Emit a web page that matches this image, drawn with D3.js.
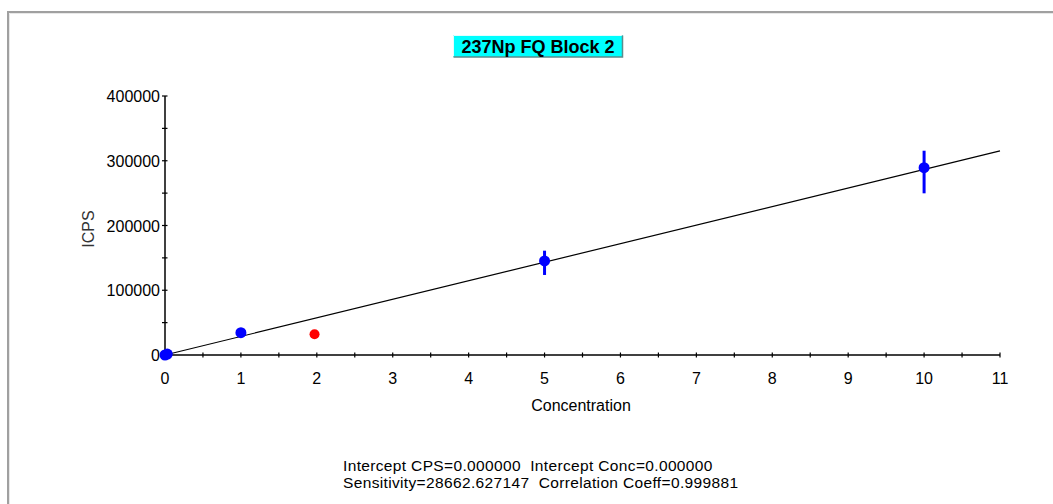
<!DOCTYPE html>
<html><head><meta charset="utf-8">
<script src="https://cdn.jsdelivr.net/npm/d3@7"></script>
<style>
html,body{margin:0;padding:0;background:#fff;}
svg{display:block;}
text{font-family:"Liberation Sans",Arial,sans-serif;white-space:pre;}
</style></head>
<body>
<svg id="chart" width="1053" height="504"></svg>
<script>
// ---- data ----
const title = "237Np FQ Block 2";
const xLabel = "Concentration";
const yLabel = "ICPS";
const xTicks = [0,1,2,3,4,5,6,7,8,9,10,11];
const yTicks = [0,100000,200000,300000,400000];
const blueConc = [0, 0.03, 1, 5, 10];
const blueCps  = [0, 1500, 34400, 145200, 289300];
const errLow   = [0, 1500, 34400, 123600, 249700];
const errHigh  = [0, 1500, 34400, 161100, 315500];
const redConc = [1.97];
const redCps  = [32000];
const sensitivity = 28662.627147;
const fitRange = [0, 11];
const footer = ["Intercept CPS=0.000000  Intercept Conc=0.000000",
                "Sensitivity=28662.627147  Correlation Coeff=0.999881"];

const svg = d3.select("#chart");
// outer frame
svg.append("path").attr("d","M8,504 V12 H1053").attr("fill","none").attr("stroke","#a0a0a0").attr("stroke-width",2);
svg.append("path").attr("d","M9.5,504 V13.5 H1053").attr("fill","none").attr("stroke","#e8e8e8").attr("stroke-width",1);

const x = d3.scaleLinear().domain([0,11]).range([165,1000]);
const y = d3.scaleLinear().domain([0,400000]).range([355,96]);

// title box
const tb = svg.append("g");
tb.append("rect").attr("x",453).attr("y",35).attr("width",170).attr("height",22).attr("fill","#00ffff");
tb.append("path").attr("d","M453.5,56.5 V35.5 H622.5").attr("fill","none").attr("stroke","#e0ffff").attr("stroke-width",1);
tb.append("path").attr("d","M453.5,57 H622.5 V35.5").attr("fill","none").attr("stroke","#5a8c8c").attr("stroke-width",1.5);
tb.append("text").attr("x",538).attr("y",52.5).attr("text-anchor","middle")
  .attr("font-size",18).attr("font-weight","bold").attr("fill","#000").text(title);

// axes
const xAxisG = svg.append("g").attr("transform",`translate(0,${y(0)})`);
xAxisG.append("line").attr("x1",x(0)).attr("x2",x(11)).attr("stroke","#000").attr("stroke-width",1.5);
const xMinor = d3.range(0, 11.01, 0.5);
xAxisG.selectAll("line.t").data(xMinor).join("line").attr("class","t")
  .attr("x1",d=>x(d)).attr("x2",d=>x(d)).attr("y1",-2.5).attr("y2",2.5).attr("stroke","#000").attr("stroke-width",1.2);
xAxisG.selectAll("text").data(xTicks).join("text")
  .attr("x",d=>x(d)).attr("y",29).attr("text-anchor","middle").attr("font-size",16).attr("fill","#000").text(d=>d);

const yAxisG = svg.append("g").attr("transform",`translate(${x(0)},0)`);
yAxisG.append("line").attr("y1",y(0)).attr("y2",y(400000)).attr("stroke","#000").attr("stroke-width",1.5);
const yMinor = d3.range(0, 400001, 50000);
yAxisG.selectAll("line.t").data(yMinor).join("line").attr("class","t")
  .attr("y1",d=>y(d)).attr("y2",d=>y(d)).attr("x1",-3).attr("x2",2.5).attr("stroke","#000").attr("stroke-width",1.2);
yAxisG.selectAll("text").data(yTicks).join("text")
  .attr("x",-5).attr("y",d=>y(d)+6).attr("text-anchor","end").attr("font-size",16).attr("fill","#000").text(d=>d);

svg.append("text").attr("transform",`translate(94,229) rotate(-90)`).attr("text-anchor","middle")
  .attr("font-size",16).attr("fill","#333").text(yLabel);
svg.append("text").attr("x",581).attr("y",411).attr("text-anchor","middle")
  .attr("font-size",16).attr("fill","#000").text(xLabel);

// fit line
const line = d3.line().x(d=>x(d)).y(d=>y(d*sensitivity));
svg.append("path").attr("d",line(fitRange)).attr("fill","none").attr("stroke","#000").attr("stroke-width",1.2);

// error bars
const idx = d3.range(blueConc.length);
svg.selectAll("line.err").data(idx).join("line").attr("class","err")
  .attr("x1",i=>x(blueConc[i])).attr("x2",i=>x(blueConc[i]))
  .attr("y1",i=>y(errLow[i])).attr("y2",i=>y(errHigh[i]))
  .attr("stroke","#0000ff").attr("stroke-width",3);
// points
svg.selectAll("circle.b").data(idx).join("circle").attr("class","b")
  .attr("cx",i=>x(blueConc[i])).attr("cy",i=>y(blueCps[i])).attr("r",5.5).attr("fill","#0000ff");
svg.selectAll("circle.r").data(d3.range(redConc.length)).join("circle").attr("class","r")
  .attr("cx",i=>x(redConc[i])).attr("cy",i=>y(redCps[i])).attr("r",5).attr("fill","#ff0000");

// footer
svg.selectAll("text.f").data(footer).join("text").attr("class","f")
  .attr("x",343).attr("y",(d,i)=>471+i*17).attr("font-size",15.5).attr("letter-spacing",0.35)
  .attr("fill","#000").text(d=>d);
</script>
</body></html>
